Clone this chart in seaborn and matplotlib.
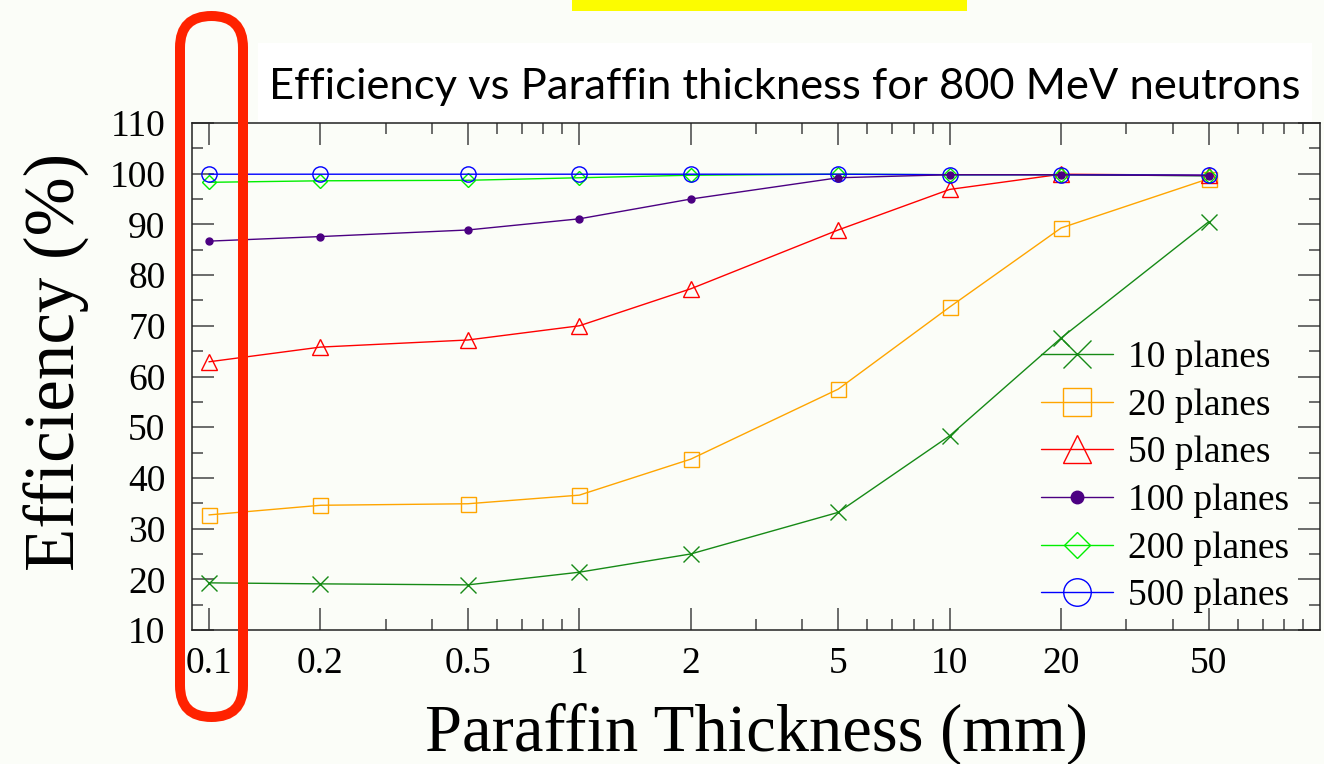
import matplotlib
matplotlib.use("Agg")
import matplotlib.pyplot as plt
import pandas as pd
import seaborn as sns
from matplotlib.patches import FancyBboxPatch, Rectangle
from matplotlib.ticker import FixedLocator, FixedFormatter, NullFormatter

# Paraffin thickness (mm) and detection efficiency (%) per number of planes
thickness_mm = [0.1, 0.2, 0.5, 1, 2, 5, 10, 20, 50]
eff_10_planes = [19.3, 19.1, 18.9, 21.4, 25.0, 33.2, 48.3, 67.6, 90.5]
eff_20_planes = [32.7, 34.6, 34.9, 36.6, 43.7, 57.5, 73.7, 89.3, 99.0]
eff_50_planes = [62.9, 65.8, 67.2, 70.0, 77.3, 88.9, 96.9, 99.9, 99.7]
eff_100_planes = [86.7, 87.6, 88.9, 91.1, 95.0, 99.2, 99.8, 99.8, 99.6]
eff_200_planes = [98.3, 98.6, 98.7, 99.2, 99.7, 99.9, 99.8, 99.8, 99.6]
eff_500_planes = [99.9, 99.9, 99.9, 99.9, 99.9, 99.9, 99.8, 99.8, 99.7]

series_labels = ["10 planes", "20 planes", "50 planes",
                 "100 planes", "200 planes", "500 planes"]
series_values = [eff_10_planes, eff_20_planes, eff_50_planes,
                 eff_100_planes, eff_200_planes, eff_500_planes]

x_major_ticks = [0.1, 0.2, 0.5, 1, 2, 5, 10, 20, 50]
x_tick_labels = ["0.1", "0.2", "0.5", "1", "2", "5", "10", "20", "50"]
x_minor_ticks = [0.3, 0.4, 0.6, 0.7, 0.8, 0.9, 3, 4, 6, 7, 8, 9,
                 30, 40, 60, 70, 80, 90]
y_major_ticks = [10, 20, 30, 40, 50, 60, 70, 80, 90, 100, 110]
y_minor_ticks = [15, 25, 35, 45, 55, 65, 75, 85, 95, 105]

title_text = "Efficiency vs Paraffin thickness for 800 MeV neutrons"

# marker styling per series
series_style = {
    "10 planes": dict(color="#168a16", marker="x", ms=11.5, filled=False, z=3),
    "20 planes": dict(color="#ffa500", marker="s", ms=10.8, filled=False, z=3),
    "50 planes": dict(color="#ff0000", marker="^", ms=11.5, filled=False, z=3),
    "100 planes": dict(color="#4b0082", marker="o", ms=5.0, filled=True, z=6),
    "200 planes": dict(color="#00ee00", marker="D", ms=7.6, filled=False, z=4),
    "500 planes": dict(color="#0000ff", marker="o", ms=11.0, filled=False, z=5),
}

sns.set_style("ticks")
plt.rcParams["font.family"] = ["Liberation Serif", "DejaVu Serif"]
plt.rcParams["text.color"] = "black"
plt.rcParams["axes.labelcolor"] = "black"

BG = "#fbfdf8"
W, H = 1324, 764
fig = plt.figure(figsize=(W / 100, H / 100), dpi=100, facecolor=BG)

# white band behind the title
fig.add_artist(Rectangle((2.58, (H - 123) / 100), 10.54, 0.80,
                         transform=fig.dpi_scale_trans, facecolor="white",
                         edgecolor="none", zorder=0))

ax = fig.add_axes([192 / W, 1 - 630 / H, 1128 / W, 507 / H])
ax.set_facecolor(BG)

frames = [pd.DataFrame({"thickness": thickness_mm, "efficiency": vals, "planes": lab})
          for lab, vals in zip(series_labels, series_values)]
df = pd.concat(frames, ignore_index=True)

for lab in series_labels:
    st = series_style[lab]
    sub = df[df["planes"] == lab]
    sns.lineplot(data=sub, x="thickness", y="efficiency", ax=ax, label=lab,
                 errorbar=None, color=st["color"], linewidth=1.0,
                 marker=st["marker"], markersize=st["ms"],
                 markerfacecolor=st["color"] if st["filled"] else "none",
                 markeredgecolor=st["color"], markeredgewidth=1.0,
                 zorder=st["z"])

ax.set_xscale("log")
ax.set_xlim(0.09, 100)
ax.set_ylim(10, 110)
ax.xaxis.set_major_locator(FixedLocator(x_major_ticks))
ax.xaxis.set_major_formatter(FixedFormatter(x_tick_labels))
ax.xaxis.set_minor_locator(FixedLocator(x_minor_ticks))
ax.xaxis.set_minor_formatter(NullFormatter())
ax.yaxis.set_major_locator(FixedLocator(y_major_ticks))
ax.yaxis.set_minor_locator(FixedLocator(y_minor_ticks))

for sp in ax.spines.values():
    sp.set_color("#222222")
    sp.set_linewidth(1.1)

ax.tick_params(which="both", direction="in", top=True, right=True,
               color="#444444", width=1.1, labelsize=27, labelcolor="black")
ax.tick_params(which="major", length=16)
ax.tick_params(which="minor", length=8)
ax.tick_params(axis="x", which="major", pad=12)
ax.tick_params(axis="y", which="major", pad=19)

ax.set_xlabel("Paraffin Thickness (mm)", fontsize=48, color="black")
ax.xaxis.set_label_coords(756 / W, 1 - 751 / H, transform=fig.transFigure)
ax.xaxis.label.set_va("baseline")
ax.set_ylabel("Efficiency (%)", fontsize=51, color="black")
ax.yaxis.set_label_coords(75 / W, 1 - 362 / H, transform=fig.transFigure)
ax.yaxis.label.set_va("baseline")

ax.legend(loc="center left", bbox_to_anchor=(1041 / W, 1 - 477 / H),
          bbox_transform=fig.transFigure, frameon=False, fontsize=27,
          markerscale=1.8, handlelength=1.92, handletextpad=0.4,
          labelspacing=0.35, borderpad=0, borderaxespad=0)

fig.text(785 / W, 1 - 99 / H, title_text, family=["Lato", "DejaVu Sans"],
         fontsize=31.3, ha="center", va="baseline", color="black")

# highlight marks around the figure
fig.add_artist(Rectangle((5.72, (H - 11) / 100), 3.95, 0.11,
                         transform=fig.dpi_scale_trans, facecolor="#fcfc00",
                         edgecolor="none", zorder=10))
fig.add_artist(FancyBboxPatch((1.80, (H - 717) / 100), 0.63, 7.01,
                              boxstyle="round,pad=0,rounding_size=0.315",
                              transform=fig.dpi_scale_trans, facecolor="none",
                              edgecolor="#ff2200", linewidth=7.2, zorder=10,
                              clip_on=False))

fig.savefig("out.png", dpi=100, facecolor=BG)
